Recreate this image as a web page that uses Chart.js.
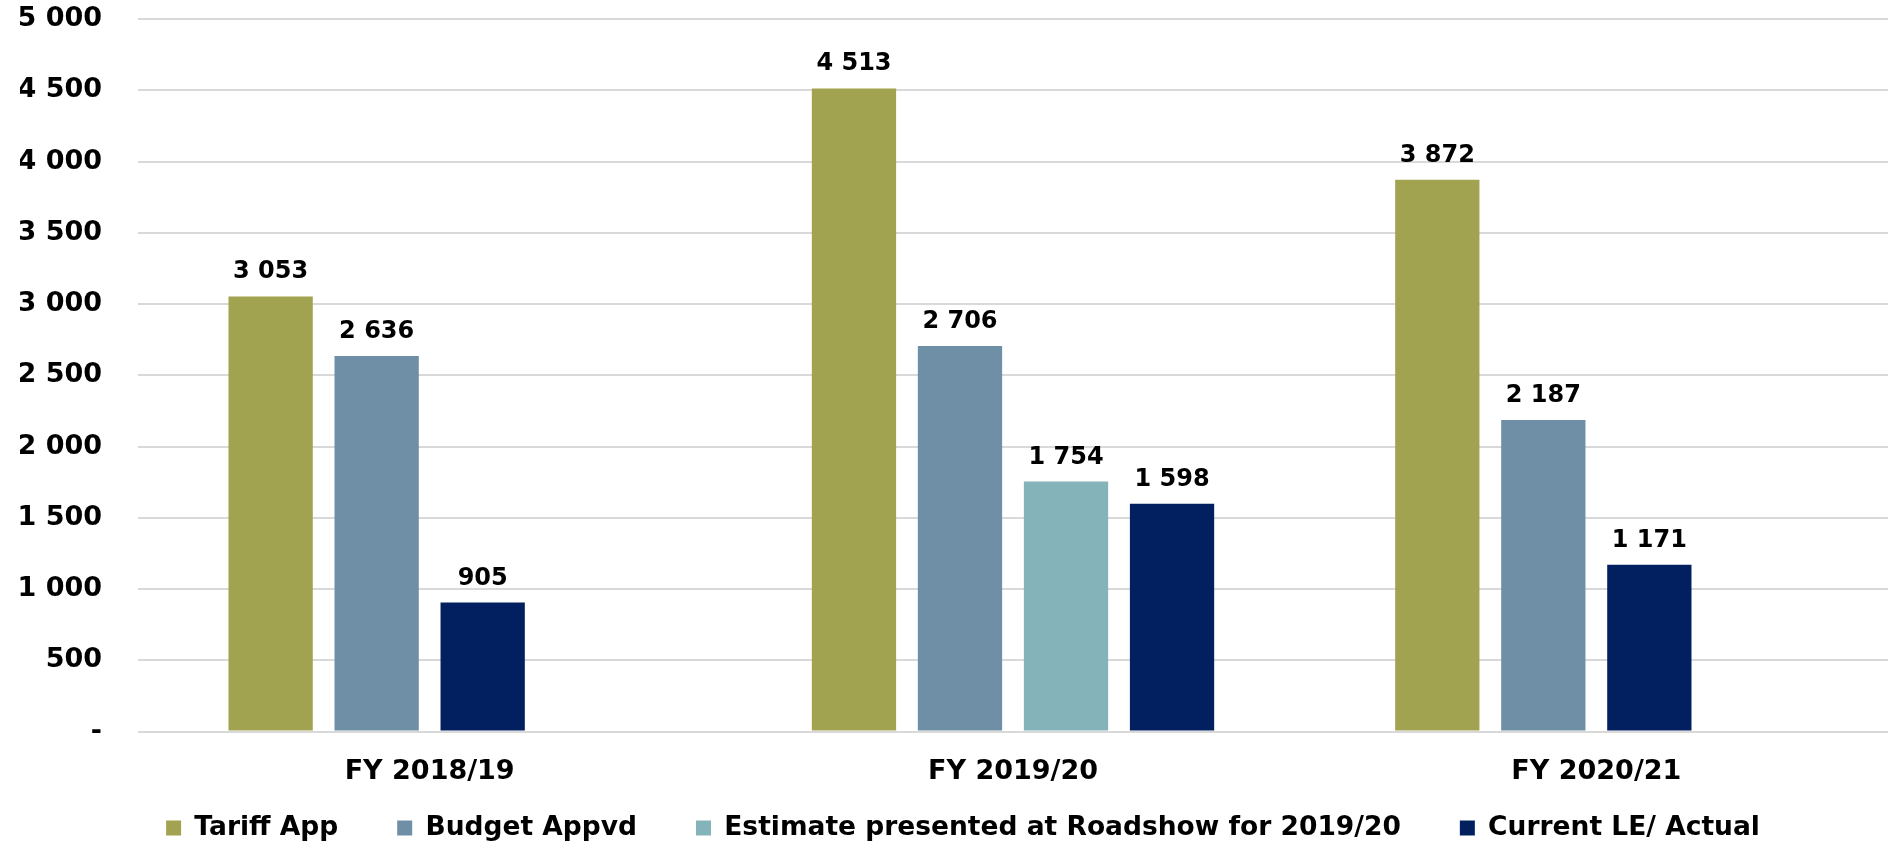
<!DOCTYPE html>
<html>
<head>
<meta charset="utf-8">
<script src="https://cdn.jsdelivr.net/npm/chart.js@4"></script>
<style>
  html, body { margin: 0; padding: 0; background: #fff; }
  #wrap { width: 1888px; height: 846px; }
</style>
</head>
<body>
<div id="wrap"><canvas id="chart"></canvas></div>
<script>
// categories and series
const years = ['FY 2018/19', 'FY 2019/20', 'FY 2020/21'];
const tariffApp = [3053, 4513, 3872];
const budgetAppvd = [2636, 2706, 2187];
const roadshowEstimate = [null, 1754, null];
const currentActual = [905, 1598, 1171];
const yTicks = [0, 500, 1000, 1500, 2000, 2500, 3000, 3500, 4000, 4500, 5000];

const seriesNames = ['Tariff App', 'Budget Appvd', 'Estimate presented at Roadshow for 2019/20', 'Current LE/ Actual'];
const colors = ['#A2A350', '#6F8FA6', '#84B3BA', '#022060'];

function fmt(v) {
  if (v === 0) return '-';
  return String(v).replace(/\B(?=(\d{3})+(?!\d))/g, ' ');
}

// the source puts the bars side by side without empty slots,
// so the 3rd slot holds whichever of estimate / actual comes first
const slot3 = years.map((y, i) => roadshowEstimate[i] != null ? roadshowEstimate[i] : currentActual[i]);
const slot3Colors = years.map((y, i) => roadshowEstimate[i] != null ? colors[2] : colors[3]);
const slot4 = years.map((y, i) => roadshowEstimate[i] != null ? currentActual[i] : null);

const labelPlugin = {
  id: 'valueLabels',
  afterDatasetsDraw(chart) {
    const ctx = chart.ctx;
    ctx.save();
    ctx.font = 'bold 24px "DejaVu Sans"';
    ctx.fillStyle = '#000';
    ctx.textAlign = 'center';
    ctx.textBaseline = 'alphabetic';
    chart.data.datasets.forEach((ds, di) => {
      const meta = chart.getDatasetMeta(di);
      meta.data.forEach((bar, i) => {
        const v = ds.data[i];
        if (v == null) return;
        ctx.fillText(fmt(v), bar.x, bar.y - 18);
      });
    });
    ctx.restore();
  }
};

// wide gaps between legend items but a short legend box
const legendFix = {
  id: 'legendFix',
  afterInit(chart) {
    const lg = chart.legend;
    const fit = lg.fit;
    lg.fit = function () { fit.call(this); this.height = 42; };
    lg.draw = function () {
      if (!this.options.display) return;
      const p = this.options.labels.padding;
      const h = this.options.labels.font.size;
      this.ctx.save();
      this.ctx.translate(9, 24 - p - h / 2);
      this._draw();
      this.ctx.restore();
    };
  }
};

const ctx = document.getElementById('chart').getContext('2d');
new Chart(ctx, {
  type: 'bar',
  data: {
    labels: years,
    datasets: [
      { data: tariffApp, backgroundColor: colors[0] },
      { data: budgetAppvd, backgroundColor: colors[1] },
      { data: slot3, backgroundColor: slot3Colors },
      { data: slot4, backgroundColor: colors[3] }
    ]
  },
  options: {
    responsive: true,
    maintainAspectRatio: false,
    animation: false,
    categoryPercentage: 0.727,
    barPercentage: 0.795,
    layout: { padding: { left: 20, top: 19, right: 0, bottom: 0 } },
    plugins: {
      tooltip: { enabled: false },
      legend: {
        position: 'bottom',
        onClick: null,
        labels: {
          color: '#000',
          font: { family: '"DejaVu Sans"', weight: 'bold', size: 26.5 },
          boxWidth: 15,
          boxHeight: 15,
          padding: 59,
          generateLabels: () => seriesNames.map((name, i) => ({
            text: name,
            fillStyle: colors[i],
            strokeStyle: colors[i],
            lineWidth: 0,
            hidden: false,
            index: i
          }))
        }
      }
    },
    scales: {
      x: {
        grid: { display: false },
        border: { display: false },
        ticks: {
          color: '#000',
          padding: 16,
          font: { family: '"DejaVu Sans"', weight: 'bold', size: 27 }
        }
      },
      y: {
        min: 0,
        max: 5000,
        afterBuildTicks: axis => { axis.ticks = yTicks.map(v => ({ value: v })); },
        afterFit: axis => {
          axis.width = 118;
          axis.paddingTop = 0;
          axis.paddingBottom = 0;
        },
        grid: { color: '#D9D9D9', lineWidth: 2, drawTicks: false },
        border: { display: false },
        ticks: {
          color: '#000',
          padding: 36,
          font: { family: '"DejaVu Sans"', weight: 'bold', size: 27 },
          callback: v => fmt(v)
        }
      }
    }
  },
  plugins: [labelPlugin, legendFix]
});
</script>
</body>
</html>
